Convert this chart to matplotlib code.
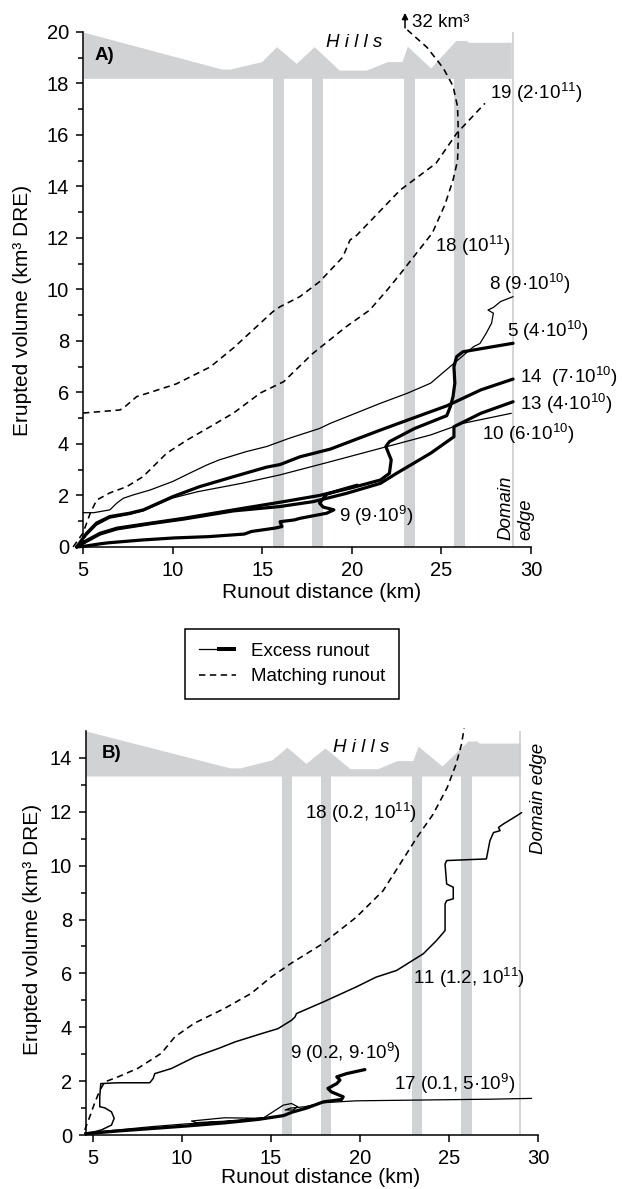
import matplotlib
matplotlib.use("Agg")
import matplotlib.pyplot as plt
from matplotlib.lines import Line2D
from matplotlib.legend_handler import HandlerTuple

plt.rcParams['font.family'] = ['Liberation Sans', 'DejaVu Sans']
plt.rcParams['mathtext.default'] = 'regular'

# ==========================================
# DATA
# ==========================================
GREY = '#d1d2d4'

# runout gaps between hills (km), same in both panels
GAPS = [(15.6, 16.2), (17.8, 18.4), (22.9, 23.5), (25.7, 26.3)]
DOMAIN_EDGE = 29.0

# hills profile, panel A
A_HILL_X = [5, 12.74, 13.2, 14.97, 15.8, 16.9, 17.9, 19.3, 20.8, 22.0, 22.8, 23.1, 24.4, 25.8, 26.4, 26.5, 28.9]
A_HILL_Y = [20, 18.56, 18.56, 18.85, 19.43, 18.78, 19.43, 18.52, 18.52, 18.85, 18.85, 19.45, 18.6, 19.67, 19.67, 19.6, 19.6]
A_HILL_BASE = 18.2

# hills profile, panel B
B_HILL_X = [4.62, 12.7, 13.27, 15.06, 15.9, 16.97, 18.04, 19.44, 21.0, 22.08, 22.98, 23.26, 24.61, 26.07, 26.57, 26.7, 29.0]
B_HILL_Y = [15.0, 13.63, 13.63, 13.93, 14.4, 13.8, 14.37, 13.6, 13.6, 13.9, 13.9, 14.44, 13.7, 14.63, 14.63, 14.55, 14.55]
B_HILL_BASE = 13.33

# --- panel A runs ---
A19_X = [5.0, 7.07, 7.4, 8.0, 8.74, 10.2, 12.1, 13.4, 15.6, 16.0, 17.1, 18.2, 19.5, 19.9, 20.27, 22.7, 24.7, 25.85, 27.43]
A19_Y = [5.2, 5.32, 5.48, 5.84, 6.0, 6.33, 6.99, 7.73, 9.14, 9.33, 9.72, 10.3, 11.26, 11.92, 12.1, 13.86, 14.9, 16.06, 17.23]

A18_X = [4.45, 5.0, 5.4, 5.76, 6.5, 7.44, 8.35, 9.67, 10.8, 12.1, 13.4, 14.9, 16.2, 17.8, 19.7, 21.0, 22.0, 22.7,
         23.6, 24.5, 25.2, 25.65, 25.9, 25.95, 25.9, 25.65, 25.1, 24.2, 23.1]
A18_Y = [0.0, 0.54, 1.3, 1.82, 2.1, 2.34, 2.73, 3.64, 4.15, 4.67, 5.2, 5.98, 6.42, 7.5, 8.56, 9.2, 10.0, 10.6,
         11.4, 12.2, 13.3, 14.25, 15.0, 16.0, 17.1, 17.9, 18.6, 19.4, 20.08]

A8_X = [5.0, 5.6, 6.5, 6.9, 7.25, 7.8, 8.74, 10.0, 10.97, 11.9, 12.6, 14.1, 15.25, 16.55, 18.2, 18.8, 21.6, 23.1,
        24.4, 25.7, 26.8, 27.15, 27.5, 27.8, 27.9, 27.6, 27.9, 28.3, 29.0]
A8_Y = [1.33, 1.33, 1.44, 1.71, 1.89, 2.02, 2.21, 2.54, 2.87, 3.18, 3.38, 3.7, 3.9, 4.23, 4.6, 4.8, 5.58, 5.97,
        6.36, 7.13, 7.78, 7.9, 8.3, 8.69, 9.08, 9.2, 9.3, 9.53, 9.72]

A10_X = [4.65, 5.2, 5.76, 6.5, 7.6, 8.37, 10.0, 11.43, 13.85, 16.0, 18.8, 21.6, 24.4, 26.2, 28.9]
A10_Y = [0.0, 0.45, 0.85, 1.12, 1.26, 1.4, 1.9, 2.15, 2.47, 2.8, 3.31, 3.83, 4.35, 4.8, 5.19]

A14_X = [4.65, 5.2, 5.76, 6.5, 7.6, 8.37, 10.0, 11.5, 13.4, 15.25, 16.0, 17.1, 18.8, 21.6, 23.4, 25.3, 27.2, 29.0]
A14_Y = [0.0, 0.53, 0.93, 1.18, 1.31, 1.44, 1.95, 2.34, 2.73, 3.1, 3.2, 3.5, 3.8, 4.54, 5.0, 5.48, 6.1, 6.52]

A5_X = [4.65, 5.2, 5.95, 6.9, 8.74, 10.6, 13.4, 16.2, 18.2, 20.0, 21.6, 22.1, 22.2, 21.9, 22.1, 23.5, 25.3,
        25.5, 25.65, 25.75, 25.7, 25.85, 26.2, 27.3, 29.0]
A5_Y = [0.0, 0.25, 0.53, 0.73, 0.92, 1.11, 1.44, 1.76, 2.0, 2.3, 2.6, 2.86, 3.38, 3.9, 4.09, 4.6, 5.1,
        5.45, 5.84, 6.36, 7.0, 7.39, 7.58, 7.71, 7.91]

A13_X = [4.65, 5.2, 5.95, 6.9, 8.74, 10.6, 13.4, 16.0, 17.85, 19.7, 21.6, 22.5, 24.4, 25.7, 25.7, 27.2, 29.0]
A13_Y = [0.0, 0.22, 0.5, 0.7, 0.9, 1.08, 1.4, 1.57, 1.76, 2.08, 2.47, 2.86, 3.64, 4.28, 4.67, 5.19, 5.64]

A9_X = [4.65, 5.1, 5.95, 6.4, 8.3, 10.1, 12.0, 14.0, 14.4, 15.7, 16.1, 16.0, 16.8, 17.1, 18.6, 19.0, 18.4,
        18.2, 18.6, 19.3, 20.3]
A9_Y = [0.0, 0.03, 0.12, 0.16, 0.27, 0.35, 0.4, 0.5, 0.6, 0.73, 0.79, 0.98, 1.05, 1.11, 1.31, 1.44, 1.55,
        1.7, 2.05, 2.2, 2.4]

# --- panel B runs ---
B18_X = [4.55, 4.83, 5.1, 5.4, 5.67, 6.42, 7.54, 8.86, 9.6, 10.7, 12.4, 13.9, 15.0, 16.1, 17.9, 19.8, 21.3,
         22.25, 23.2, 24.1, 24.9, 25.4, 25.7, 25.85]
B18_Y = [0.19, 0.68, 1.18, 1.67, 1.97, 2.16, 2.48, 3.04, 3.64, 4.15, 4.7, 5.26, 5.86, 6.36, 7.1, 8.09, 9.07,
         10.06, 11.05, 11.9, 12.9, 13.77, 14.5, 15.1]

B11_X = [4.6, 4.93, 5.49, 6.05, 6.2, 6.05, 5.67, 5.39, 5.39, 5.45, 6.42, 8.2, 8.39, 8.48, 9.42, 10.73, 12.04,
         13.0, 14.5, 15.4, 16.16, 16.35, 16.44, 17.94, 19.8, 20.9, 22.06, 23.56, 24.3, 24.78, 24.78, 24.87,
         25.24, 25.24, 24.87, 24.78, 24.87, 27.1, 27.3, 27.5, 27.87, 27.78, 28.06, 28.8, 29.08]
B11_Y = [0.05, 0.09, 0.19, 0.37, 0.62, 0.86, 1.01, 1.05, 1.42, 1.91, 1.94, 1.94, 2.1, 2.28, 2.47, 2.9, 3.21,
         3.46, 3.77, 3.95, 4.26, 4.38, 4.51, 4.94, 5.5, 5.86, 6.11, 6.73, 7.22, 7.59, 8.58, 8.7,
         8.77, 9.2, 9.32, 10.06, 10.19, 10.25, 10.93, 11.23, 11.3, 11.42, 11.55, 11.85, 11.97]

B17_X = [4.55, 6.42, 8.3, 10.17, 12.4, 14.3, 14.5, 12.4, 10.54, 10.8, 12.6, 14.6, 15.7, 16.16, 16.5, 16.25,
         15.8, 16.1, 16.9, 17.94, 19.8, 23.56, 27.3, 29.64]
B17_Y = [0.08, 0.19, 0.31, 0.41, 0.5, 0.58, 0.62, 0.64, 0.52, 0.46, 0.52, 0.64, 1.11, 1.17, 1.05, 0.93,
         0.93, 1.0, 1.05, 1.2, 1.27, 1.3, 1.33, 1.36]

B9_X = [4.6, 6.42, 8.3, 10.17, 12.4, 14.3, 15.7, 16.2, 17.0, 17.94, 18.97, 19.06, 18.4, 18.2, 18.7, 18.88,
        18.7, 19.25, 20.28]
B9_Y = [0.05, 0.15, 0.24, 0.33, 0.45, 0.58, 0.72, 0.85, 1.0, 1.23, 1.32, 1.42, 1.6, 1.73, 1.91, 2.04,
        2.16, 2.28, 2.43]

# run labels: (text, x, y of text centre)
A_LABELS = [
    ("19 (2·10$^{11}$)", 27.7, 17.67),
    ("18 (10$^{11}$)", 24.64, 11.73),
    ("8 (9·10$^{10}$)", 27.66, 10.25),
    ("5 (4·10$^{10}$)", 28.66, 8.43),
    ("14  (7·10$^{10}$)", 29.4, 6.61),
    ("13 (4·10$^{10}$)", 29.4, 5.59),
    ("10 (6·10$^{10}$)", 27.25, 4.41),
    ("9 (9·10$^{9}$)", 19.3, 1.24),
]
B_LABELS = [
    ("18 (0.2, 10$^{11}$)", 16.92, 11.97),
    ("11 (1.2, 10$^{11}$)", 22.98, 5.86),
    ("9 (0.2, 9·10$^{9}$)", 16.07, 3.06),
    ("17 (0.1, 5·10$^{9}$)", 21.91, 1.92),
]

THICK = 2.3
THIN = 0.9
DASH = dict(color='black', lw=1.15, dashes=(4, 2.8))
FS = 13.5


def style_axes(ax, xlim, ylim):
    ax.set_xlim(*xlim)
    ax.set_ylim(*ylim)
    for s in ['top', 'right']:
        ax.spines[s].set_visible(False)
    for s in ['left', 'bottom']:
        ax.spines[s].set_linewidth(1.1)
    ax.set_xticks([5, 10, 15, 20, 25, 30])
    ax.set_yticks(range(0, int(ylim[1]) + 1, 2))
    ax.set_yticks(range(1, int(ylim[1]), 2), minor=True)
    ax.tick_params(axis='both', which='major', direction='out', length=5, width=1.1,
                   labelsize=14.5, pad=5)
    ax.tick_params(axis='y', which='minor', direction='out', length=3.5, width=1.1)
    ax.tick_params(axis='x', which='minor', length=0)


def draw_terrain(ax, hx, hy, base, ytop):
    ax.fill_between(hx, base, hy, color=GREY, lw=0, zorder=0)
    for x0, x1 in GAPS:
        ax.axvspan(x0, x1, ymin=0, ymax=base / ytop, color=GREY, lw=0, zorder=0)
    ax.plot([DOMAIN_EDGE, DOMAIN_EDGE], [0, ytop], color='#c9c9c9', lw=1.1, zorder=0.5)


def run(ax, x, y, lw, **kw):
    ax.plot(x, y, color='black', lw=lw, clip_on=False, solid_joinstyle='round',
            solid_capstyle='round', zorder=3, **kw)


fig = plt.figure(figsize=(6.22, 11.89), dpi=100)

# ==========================================
# PANEL A
# ==========================================
axA = fig.add_axes([0.1334, 0.5400, 0.7203, 0.4331])
style_axes(axA, (5, 30), (0, 20))
draw_terrain(axA, A_HILL_X, A_HILL_Y, A_HILL_BASE, 20)

axA.plot(A19_X, A19_Y, clip_on=False, zorder=3, **DASH)
axA.plot(A18_X, A18_Y, clip_on=False, zorder=3, **DASH)
run(axA, A8_X, A8_Y, THIN)
run(axA, A10_X, A10_Y, THIN)
run(axA, A14_X, A14_Y, THICK)
run(axA, A5_X, A5_Y, THICK)
run(axA, A13_X, A13_Y, THICK)
run(axA, A9_X, A9_Y, THICK)

for txt, x, y in A_LABELS:
    axA.text(x, y - 0.26, txt, fontsize=FS, ha='left', va='baseline', clip_on=False)

axA.annotate('', xy=(22.97, 20.85), xytext=(22.97, 20.05),
             arrowprops=dict(arrowstyle='-|>', color='black', lw=1.1, mutation_scale=9),
             annotation_clip=False)
axA.text(23.35, 20.47 - 0.26, '32 km³', fontsize=FS, ha='left', va='baseline', clip_on=False)

axA.text(5.67, 19.1, 'A)', fontsize=FS, fontweight='bold', ha='left', va='center')
axA.text(20.15, 19.6, 'H i l l s', fontsize=FS, style='italic', ha='center', va='center')
axA.text(29.15, 0.27, 'Domain\nedge', fontsize=FS, style='italic', rotation=90,
         ha='center', va='bottom', multialignment='left', linespacing=1.25, clip_on=False)

axA.set_xlabel('Runout distance (km)', fontsize=15, va='center')
axA.set_ylabel('Erupted volume (km³ DRE)', fontsize=15, va='center')
axA.xaxis.set_label_coords(0.533, -0.089)
axA.yaxis.set_label_coords(-0.134, 0.46)

# ==========================================
# PANEL B
# ==========================================
axB = fig.add_axes([0.1383, 0.0454, 0.7267, 0.3398])
style_axes(axB, (4.62, 30), (0, 15))
draw_terrain(axB, B_HILL_X, B_HILL_Y, B_HILL_BASE, 15)

axB.plot(B18_X, B18_Y, clip_on=False, zorder=3, **DASH)
run(axB, B11_X, B11_Y, 1.1)
run(axB, B17_X, B17_Y, THIN)
run(axB, B9_X, B9_Y, THICK)

for txt, x, y in B_LABELS:
    axB.text(x, y - 0.245, txt, fontsize=FS, ha='left', va='baseline', clip_on=False)

axB.text(5.52, 14.15, 'B)', fontsize=FS, fontweight='bold', ha='left', va='center')
axB.text(20.06, 14.4, 'H i l l s', fontsize=FS, style='italic', ha='center', va='center')
axB.text(30.0, 12.5, 'Domain edge', fontsize=FS, style='italic', rotation=90,
         ha='center', va='center', clip_on=False)

axB.set_xlabel('Runout distance (km)', fontsize=15, va='center')
axB.set_ylabel('Erupted volume (km³ DRE)', fontsize=15, va='center')
axB.xaxis.set_label_coords(0.518, -0.106)
axB.yaxis.set_label_coords(-0.118, 0.51)

# ==========================================
# LEGEND
# ==========================================
h_thin = Line2D([], [], color='black', lw=THIN)
h_thick = Line2D([], [], color='black', lw=THICK + 0.6, solid_capstyle='butt')
h_dash = Line2D([], [], **DASH)
leg = fig.legend([(h_thin, h_thick), h_dash], ['Excess runout', 'Matching runout'],
                 handler_map={tuple: HandlerTuple(ndivide=2, pad=0)},
                 loc='center', bbox_to_anchor=(0.4695, 0.4415), fontsize=FS,
                 fancybox=False, framealpha=1, edgecolor='black', handlelength=2.0,
                 handletextpad=0.8, borderpad=0.75, labelspacing=0.45, borderaxespad=0)
leg.get_frame().set_linewidth(1.1)

fig.savefig('out.png', dpi=100)
